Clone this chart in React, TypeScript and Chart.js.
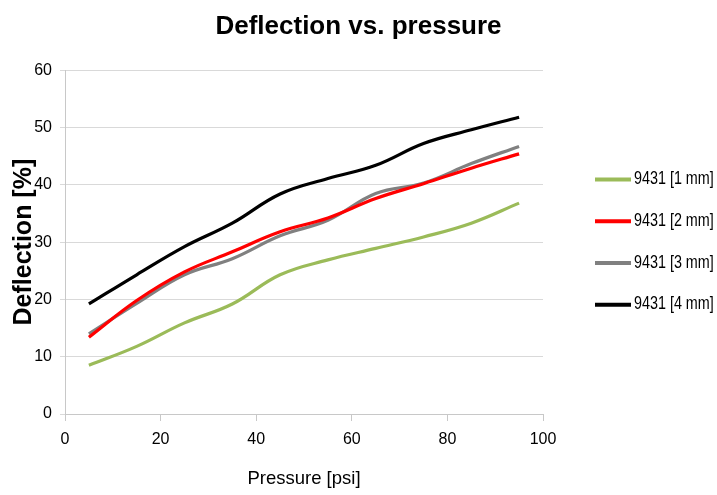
import React, { useEffect, useRef } from "react";
import { Chart, registerables, layouts } from "chart.js";

Chart.register(...registerables);

const pressure = [5, 15, 25, 35, 45, 55, 65, 75, 85, 95];
const series1mm = [8.5, 11.8, 15.9, 19.2, 24.3, 26.9, 28.9, 30.9, 33.3, 36.8];
const series2mm = [13.4, 19.8, 24.8, 28.3, 31.8, 34.2, 37.6, 40.2, 42.9, 45.4];
const series3mm = [14.0, 19.3, 24.3, 27.1, 31.1, 33.8, 38.5, 40.3, 43.7, 46.7];
const series4mm = [19.2, 24.3, 29.2, 33.3, 38.4, 41.1, 43.4, 47.2, 49.6, 51.8];
const seriesLabels = ["9431 [1 mm]", "9431 [2 mm]", "9431 [3 mm]", "9431 [4 mm]"];
const seriesColors = ["#9bbb59", "#ff0000", "#808080", "#000000"];
const xTicks = [0, 20, 40, 60, 80, 100];
const yTicks = [0, 10, 20, 30, 40, 50, 60];

const ARIAL = '"Liberation Sans", Arial, sans-serif';

const sideLegend = {
  id: "sideLegend",
  beforeInit(chart: any) {
    const box: any = {
      position: "right",
      weight: 2000,
      fullSize: false,
      options: {},
      top: 0,
      left: 0,
      right: 0,
      bottom: 0,
      width: 0,
      height: 0,
      isHorizontal() {
        return false;
      },
      update(maxWidth: number, maxHeight: number) {
        this.width = 174;
        this.height = maxHeight;
      },
      getPadding() {
        return { top: 0, left: 0, right: 0, bottom: 0 };
      },
      draw() {},
    };
    layouts.addBox(chart, box);
  },
  afterDraw(chart: any) {
    const { ctx, chartArea } = chart;
    const ds = chart.data.datasets;
    const spacing = 41.7;
    const cy = (chartArea.top + chartArea.bottom) / 2;
    const x0 = chartArea.right + 52;
    ctx.save();
    ctx.font = `17.5px ${ARIAL}`;
    ctx.textBaseline = "middle";
    ctx.textAlign = "left";
    ds.forEach((d: any, i: number) => {
      const y = cy + (i - (ds.length - 1) / 2) * spacing;
      ctx.strokeStyle = d.borderColor;
      ctx.lineWidth = 4;
      ctx.beginPath();
      ctx.moveTo(x0, y);
      ctx.lineTo(x0 + 36, y);
      ctx.stroke();
      ctx.save();
      ctx.translate(x0 + 39, y);
      ctx.scale(0.82, 1.0);
      ctx.fillStyle = "#000";
      ctx.fillText(d.label, 0, 0);
      ctx.restore();
    });
    ctx.restore();
  },
};

export default function App() {
  const ref = useRef<HTMLCanvasElement>(null);
  useEffect(() => {
    document.body.style.margin = "0";
    const allSeries = [series1mm, series2mm, series3mm, series4mm];
    const chart = new Chart(ref.current!, {
      type: "line",
      data: {
        datasets: allSeries.map((s, i) => ({
          label: seriesLabels[i],
          data: s.map((v, j) => ({ x: pressure[j], y: v })),
          borderColor: seriesColors[i],
          backgroundColor: seriesColors[i],
          borderWidth: 3.2,
          pointRadius: 0,
          tension: 0.4,
          fill: false,
        })),
      },
      options: {
        animation: false,
        responsive: false,
        layout: { padding: 0 },
        plugins: {
          legend: { display: false },
          tooltip: { enabled: false },
          title: {
            display: true,
            text: "Deflection vs. pressure",
            color: "#000",
            font: { family: ARIAL, size: 26, weight: "bold" },
            padding: { top: 11, bottom: 28 },
          },
        },
        scales: {
          x: {
            type: "linear",
            min: 0,
            max: 100,
            afterBuildTicks: (scale: any) => {
              scale.ticks = xTicks.map((v) => ({ value: v }));
            },
            afterFit: (scale: any) => {
              scale.height = 81;
            },
            grid: {
              drawOnChartArea: false,
              drawTicks: true,
              tickLength: 7,
              color: "#c8c8c8",
            },
            border: { display: true, color: "#c8c8c8", width: 1 },
            ticks: {
              color: "#000",
              font: { family: ARIAL, size: 16 },
              padding: 9,
              maxRotation: 0,
            },
            title: {
              display: true,
              text: "Pressure [psi]",
              color: "#000",
              font: { family: ARIAL, size: 18.5 },
              padding: { top: 0, bottom: 5 },
            },
          },
          y: {
            type: "linear",
            min: 0,
            max: 60,
            afterBuildTicks: (scale: any) => {
              scale.ticks = yTicks.map((v) => ({ value: v }));
            },
            afterFit: (scale: any) => {
              scale.width = 65;
            },
            grid: {
              color: "#d9d9d9",
              drawTicks: true,
              tickLength: 5,
              lineWidth: 1,
            },
            border: { display: true, color: "#c8c8c8", width: 1 },
            ticks: {
              color: "#000",
              font: { family: ARIAL, size: 16 },
              padding: 8,
            },
            title: {
              display: true,
              text: "Deflection [%]",
              color: "#000",
              font: { family: ARIAL, size: 25, weight: "bold" },
              padding: { top: 9, bottom: 0 },
            },
          },
        },
      },
      plugins: [sideLegend],
    });
    return () => chart.destroy();
  }, []);
  return (
    <div style={{ width: 717, height: 495 }}>
      <canvas ref={ref} width={717} height={495} />
    </div>
  );
}
